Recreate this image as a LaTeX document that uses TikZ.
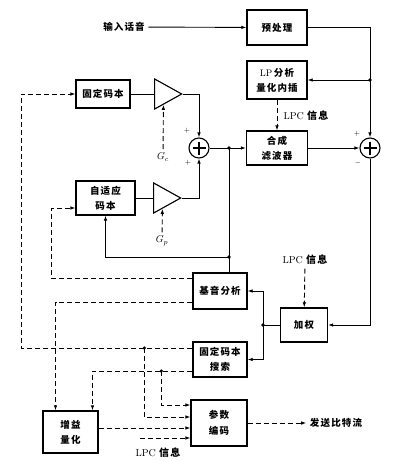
\documentclass[tikz,border=0pt]{standalone}
\usepackage{fontspec}
\newfontfamily\cjk[LetterSpace=12]{Noto Sans CJK SC}
\usetikzlibrary{arrows.meta,calc,shapes.geometric}

\begin{document}
\begin{tikzpicture}[x=1pt,y=-1pt,>={Latex[length=5pt,width=3.6pt]},line width=0.9pt,font=\fontsize{9.5}{15}\cjk\bfseries]
  \tikzstyle{block}=[draw, line width=1.4pt, align=center, inner sep=1pt]
  \tikzstyle{amp}=[draw, line width=1.1pt, isosceles triangle, isosceles triangle stretches, inner sep=0pt, minimum width=30pt, minimum height=27pt]
  \tikzstyle{sum}=[draw, line width=1.1pt, circle, minimum size=20pt, inner sep=0pt,
     path picture={\draw[line width=1.2pt] ($(path picture bounding box.center)+(-6.5,0)$) -- +(13,0)
                   ($(path picture bounding box.center)+(0,-6.5)$) -- +(0,13);}]
  \tikzstyle{info}=[dash pattern=on 5pt off 3pt]
  \tikzstyle{latin}=[font=\fontsize{10}{12}\rmfamily]
  \useasboundingbox (0,0) rectangle (404,461);

  % blocks
  \node[block, minimum width=60pt, minimum height=35pt] (pre) at (277,27.5) {预处理};
  \node (in) at (124,27) {输入话音};
  \node[block, minimum width=60pt, minimum height=38pt] (lp) at (277,80) {{\rmfamily\mdseries LP}\,分析\\量化内插};
  \node[block, minimum width=61pt, minimum height=34pt] (syn) at (277,148) {合成\\滤波器};
  \node[block, minimum width=54pt, minimum height=28pt] (fix) at (103,94) {固定码本};
  \node[amp] (amp1) at (163.5,94) {};
  \node[block, minimum width=59pt, minimum height=34pt] (ada) at (105.5,198) {自适应\\码本};
  \node[amp] (amp2) at (162.5,198) {};
  \node[sum] (sumA) at (199,148) {};
  \node[sum] (sumB) at (370,148) {};
  \node[block, minimum width=54pt, minimum height=36pt] (pitch) at (220,291) {基音分析};
  \node[block, minimum width=47pt, minimum height=34pt] (wt) at (304,325) {加权};
  \node[block, minimum width=54pt, minimum height=35pt] (search) at (220,359.5) {固定码本\\搜索};
  \node[block, minimum width=56pt, minimum height=46pt] (param) at (219,423) {参数\\[1pt]编码};
  \node[block, minimum width=55pt, minimum height=42pt] (gain) at (70.5,432) {增益\\量化};

  % labels
  \node[latin] (lpc1) at (306,116) {LPC {\cjk\bfseries 信息}};
  \node[latin] (lpc2) at (305,260) {LPC {\cjk\bfseries 信息}};
  \node[latin] (lpc3) at (158,453) {LPC {\cjk\bfseries 信息}};
  \node[latin] (gc) at (163,157) {$G_c$};
  \node[latin] (gp) at (162,241) {$G_p$};
  \node (out) at (336,423) {发送比特流};
  \node[font=\scriptsize] (pa1) at (187,131) {$+$};
  \node[font=\scriptsize] (pa2) at (188,163) {$+$};
  \node[font=\scriptsize] (pb1) at (357,134) {$+$};
  \node[font=\scriptsize] (mb) at (358,163) {$-$};

  % solid paths
  \coordinate (j0) at (sumB |- lp);
  \coordinate (j1) at (229,148);
  \coordinate (j2) at (229,257);
  \coordinate (j3) at (263,325);
  \draw[->] (in) -- (pre);
  \draw[->] (pre) -| (sumB);
  \draw[->] (j0) -- (lp);
  \draw (fix) -- (amp1);
  \draw[->] (amp1.apex) -| (sumA);
  \draw (ada) -- (amp2);
  \draw[->] (amp2.apex) -| (sumA);
  \draw[->] (sumA) -- (syn);
  \draw[->] (syn) -- (sumB);
  \draw (j1) -- (j1 |- pitch.north);
  \draw[->] (j2) -| (ada);
  \draw[->] (sumB) |- (wt);
  \draw (wt) -- (j3);
  \draw[->] (j3) |- (pitch);
  \draw[->] (j3) |- (search);

  % dashed paths
  \coordinate (s1) at ($(search.west)+(0,-11.5)$);
  \coordinate (s2) at ($(search.west)+(0,11.5)$);
  \coordinate (k1) at ($(s1)+(-48,0)$);
  \coordinate (k2) at ($(s2)+(-31,0)$);
  \coordinate (p3) at ($(param.west)+(0,5)$);
  \coordinate (lpcin) at ($(param.west)+(-50,15)$);
  \draw[info,->] (lp) -- (syn);
  \draw[info,->] (gc) -- (amp1);
  \draw[info,->] (gp) -- (amp2);
  \draw[info,->] (lpc2) -- (wt);
  \draw[info,->] (s1) -| ($(fix.west)+(-54,0)$) -- (fix.west);
  \draw[info,->] ($(pitch.west)+(0,-13)$) -| ($(ada.west)+(-23.5,10)$) -- ($(ada.west)+(0,10)$);
  \draw[info,->] ($(pitch.west)+(0,11)$) -| ($(gain.north)+(-15,0)$);
  \draw[info,->] (s2) -| ($(gain.north)+(22,0)$);
  \draw[info,->] (k1) |- ($(param.west)+(0,-6)$);
  \draw[info,->] (k2) |- ($(param.west)+(0,-18)$);
  \draw[info,->] (gain.east |- p3) -- (p3);
  \draw[info,->] (lpcin) -- ($(param.west)+(0,15)$);
  \draw[info,->] (param) -- (out);

  \foreach \p in {j0,j1,j2,j3,k1,k2}
    \fill (\p) circle (1.8);
\end{tikzpicture}
\end{document}
